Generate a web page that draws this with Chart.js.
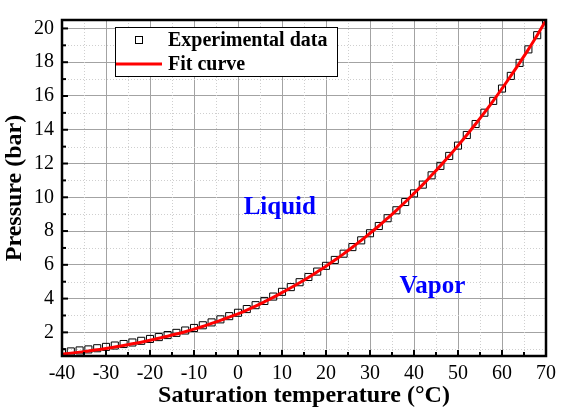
<!DOCTYPE html>
<html lang="en">
<head>
    <meta charset="UTF-8">
    <title>Saturation pressure</title>
    <script src="https://cdn.jsdelivr.net/npm/chart.js"></script>
    <style>
        body { margin: 0; background: #fff; }
        canvas { display: block; }
    </style>
</head>
<body>
    <canvas id="grafico" width="562" height="410"></canvas>

<script>
    // dados
    const temps = [-40, -38, -36, -34, -32, -30, -28, -26, -24, -22, -20, -18, -16, -14, -12, -10, -8, -6, -4, -2,
        0, 2, 4, 6, 8, 10, 12, 14, 16, 18, 20, 22, 24, 26, 28, 30, 32, 34, 36, 38,
        40, 42, 44, 46, 48, 50, 52, 54, 56, 58, 60, 62, 64, 66, 68, 70];
    const expPressure = [0.82, 0.87, 0.93, 0.99, 1.06, 1.14, 1.22, 1.31, 1.40, 1.50, 1.61, 1.72, 1.84, 1.97, 2.11, 2.26, 2.42, 2.59, 2.77, 2.96,
        3.16, 3.38, 3.61, 3.86, 4.12, 4.40, 4.68, 4.97, 5.28, 5.60, 5.94, 6.29, 6.66, 7.05, 7.45, 7.87, 8.30, 8.76, 9.23, 9.72,
        10.23, 10.75, 11.30, 11.86, 12.45, 13.06, 13.69, 14.34, 15.01, 15.71, 16.44, 17.19, 17.96, 18.76, 19.60, 20.46];
    const fitPressure = [0.72, 0.77, 0.83, 0.90, 0.97, 1.05, 1.13, 1.22, 1.32, 1.42, 1.53, 1.65, 1.77, 1.90, 2.04, 2.19, 2.35, 2.53, 2.71, 2.90,
        3.10, 3.32, 3.56, 3.81, 4.07, 4.35, 4.64, 4.94, 5.25, 5.58, 5.92, 6.28, 6.65, 7.04, 7.45, 7.87, 8.30, 8.76, 9.23, 9.72,
        10.23, 10.75, 11.30, 11.86, 12.45, 13.06, 13.69, 14.34, 15.01, 15.71, 16.44, 17.19, 17.96, 18.76, 19.60, 20.48];
    const xTickLabels = [-40, -30, -20, -10, 0, 10, 20, 30, 40, 50, 60, 70];
    const yTickLabels = [2, 4, 6, 8, 10, 12, 14, 16, 18, 20];
    const yMinorTicks = [1, 3, 5, 7, 9, 11, 13, 15, 17, 19];
    const regionLabels = ['Liquid', 'Vapor'];
    const regionPos = [[9.5, 9.4], [44.2, 4.7]];

    const serif = "'Liberation Serif', 'Times New Roman', serif";
    const majorGrid = '#a3a3a3';
    const minorGrid = '#cfcfcf';

    // moldura, ticks para dentro, grade pontilhada, legenda e textos
    const moldura = {
        id: 'moldura',
        beforeDatasetsDraw(chart) {
            const ctx = chart.ctx, a = chart.chartArea;
            const xs = chart.scales.x, ys = chart.scales.y;
            ctx.save();
            ctx.strokeStyle = minorGrid;
            ctx.lineWidth = 1;
            ctx.setLineDash([1, 2]);
            xs.ticks.forEach(t => {
                if (t.value % 10 !== 0) {
                    const px = Math.round(xs.getPixelForValue(t.value)) + 0.5;
                    ctx.beginPath(); ctx.moveTo(px, a.top); ctx.lineTo(px, a.bottom); ctx.stroke();
                }
            });
            ys.ticks.forEach(t => {
                if (t.value % 2 !== 0) {
                    const py = Math.round(ys.getPixelForValue(t.value)) + 0.5;
                    ctx.beginPath(); ctx.moveTo(a.left, py); ctx.lineTo(a.right, py); ctx.stroke();
                }
            });
            ctx.restore();
        },
        afterDraw(chart) {
            const ctx = chart.ctx, a = chart.chartArea;
            const xs = chart.scales.x, ys = chart.scales.y;
            ctx.save();

            // ticks
            ctx.strokeStyle = '#000';
            ctx.lineWidth = 2;
            xs.ticks.forEach(t => {
                const px = xs.getPixelForValue(t.value);
                const len = t.value % 10 === 0 ? 6 : 4;
                ctx.beginPath(); ctx.moveTo(px, a.bottom); ctx.lineTo(px, a.bottom - len); ctx.stroke();
            });
            ys.ticks.forEach(t => {
                const py = ys.getPixelForValue(t.value);
                const len = t.value % 2 === 0 ? 6 : 4;
                ctx.beginPath(); ctx.moveTo(a.left, py); ctx.lineTo(a.left + len, py); ctx.stroke();
            });

            // borda
            ctx.lineWidth = 2.5;
            ctx.strokeRect(a.left, a.top, a.right - a.left, a.bottom - a.top);

            // legenda
            const lx = 115.5, ly = 27.5;
            ctx.fillStyle = '#fff';
            ctx.fillRect(lx, ly, 222, 49);
            ctx.lineWidth = 1;
            ctx.strokeStyle = '#000';
            ctx.strokeRect(lx, ly, 222, 49);
            ctx.strokeRect(135.5, 36.5, 7, 7);
            ctx.strokeStyle = '#ff0000';
            ctx.lineWidth = 3;
            ctx.beginPath(); ctx.moveTo(116, 64); ctx.lineTo(162, 64); ctx.stroke();
            ctx.fillStyle = '#000';
            ctx.font = 'bold 20px ' + serif;
            ctx.textBaseline = 'middle';
            ctx.textAlign = 'left';
            ctx.fillText('Experimental data', 168, 41);
            ctx.fillText('Fit curve', 168, 65);

            // regioes
            ctx.fillStyle = '#0000ff';
            ctx.font = 'bold 25px ' + serif;
            ctx.textAlign = 'center';
            regionLabels.forEach((txt, i) => {
                ctx.fillText(txt, xs.getPixelForValue(regionPos[i][0]), ys.getPixelForValue(regionPos[i][1]));
            });
            ctx.restore();
        }
    };

    const config = {
        type: 'scatter',
        data: {
            datasets: [{
                label: 'Fit curve',
                data: temps.map((t, i) => ({ x: t, y: fitPressure[i] })),
                showLine: true,
                borderColor: '#ff0000',
                borderWidth: 3,
                pointRadius: 0,
                tension: 0.4,
                order: 0
            }, {
                label: 'Experimental data',
                data: temps.map((t, i) => ({ x: t, y: expPressure[i] })),
                pointStyle: 'rect',
                pointRadius: 5,
                borderColor: '#000',
                borderWidth: 1,
                backgroundColor: 'rgba(255,255,255,0)',
                order: 1
            }]
        },
        options: {
            responsive: false,
            animation: false,
            devicePixelRatio: 1,
            layout: { padding: { top: 6, right: 12, left: 0, bottom: 0 } },
            plugins: {
                legend: { display: false },
                tooltip: { enabled: false }
            },
            scales: {
                x: {
                    type: 'linear',
                    min: -40,
                    max: 70,
                    afterFit: s => { s.height = 54; },
                    ticks: {
                        stepSize: 5,
                        autoSkip: false,
                        maxRotation: 0,
                        padding: 6,
                        color: '#000',
                        font: { family: serif, size: 20 },
                        callback: v => xTickLabels.includes(v) ? String(v) : ''
                    },
                    grid: {
                        drawTicks: false,
                        color: c => (c.tick && c.tick.value % 10 === 0) ? majorGrid : 'rgba(0,0,0,0)',
                        lineWidth: 1
                    },
                    border: { display: false },
                    title: {
                        display: true,
                        text: 'Saturation temperature (°C)',
                        color: '#000',
                        font: { family: serif, size: 24, weight: 'bold' },
                        padding: { top: 0, bottom: 0 }
                    }
                },
                y: {
                    type: 'linear',
                    min: 0.6,
                    max: 20.5,
                    afterFit: s => { s.width = 62; },
                    afterBuildTicks: s => {
                        s.ticks = yTickLabels.concat(yMinorTicks).sort((p, q) => p - q).map(v => ({ value: v }));
                    },
                    ticks: {
                        autoSkip: false,
                        padding: 8,
                        color: '#000',
                        font: { family: serif, size: 20 },
                        callback: v => yTickLabels.includes(v) ? String(v) : ''
                    },
                    grid: {
                        drawTicks: false,
                        color: c => (c.tick && c.tick.value % 2 === 0) ? majorGrid : 'rgba(0,0,0,0)',
                        lineWidth: 1
                    },
                    border: { display: false },
                    title: {
                        display: true,
                        text: 'Pressure (bar)',
                        color: '#000',
                        font: { family: serif, size: 24, weight: 'bold' },
                        padding: { top: 0, bottom: 0 }
                    }
                }
            }
        },
        plugins: [moldura]
    };

    new Chart(document.getElementById('grafico'), config);
</script>
</body>
</html>
